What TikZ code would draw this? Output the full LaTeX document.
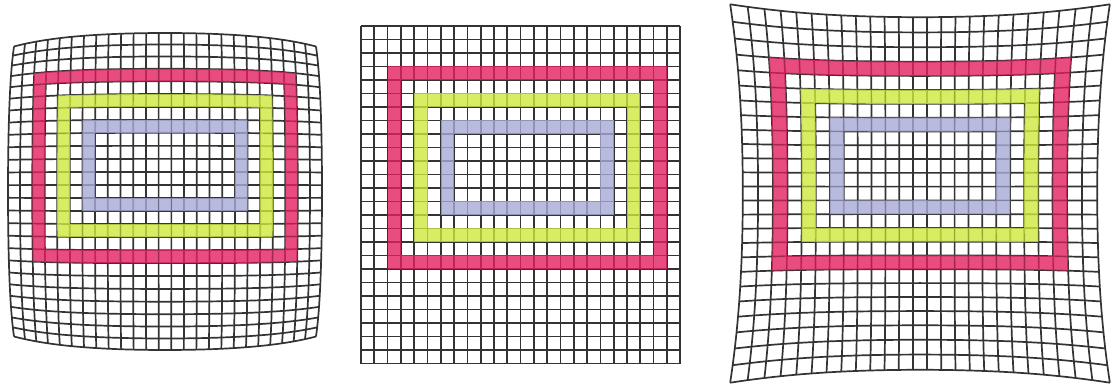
\documentclass[tikz,border=0pt]{standalone}
\definecolor{bandred}{RGB}{228,32,96}
\definecolor{bandlime}{RGB}{206,232,60}
\definecolor{bandlav}{RGB}{168,170,214}
\tikzset{
  gridline/.style={line width=0.85pt,draw=black!80},
  declare function={
    gu(\p)=2*\p/\gnc-1;
    gv(\q)=2*\q/\gnr-1;
    gr(\p,\q)=pow(gu(\p)*gu(\p)+gv(\q)*gv(\q),2);
    mx(\p,\q)=\gcx+\gax*gu(\p)*(1+(\gkx)*gr(\p,\q));
    my(\p,\q)=\gcy+\gay*gv(\q)*(1+(\gky)*gr(\p,\q));
  }
}
% one cell of a band: colour, column, row
\newcommand\cellfill[3]{\fill[#1,fill opacity=0.8] ({mx(#2,#3)},{my(#2,#3)}) -- ({mx(#2+1,#3)},{my(#2+1,#3)}) -- ({mx(#2+1,#3+1)},{my(#2+1,#3+1)}) -- ({mx(#2,#3+1)},{my(#2,#3+1)}) -- cycle;}
% ring of cells: colour, first/last column, first/last row
\newcommand\band[5]{%
  \foreach \ci in {#2,...,#3} {\cellfill{#1}{\ci}{#4}\cellfill{#1}{\ci}{#5}}
  \pgfmathtruncatemacro\ra{#4+1}\pgfmathtruncatemacro\rb{#5-1}
  \foreach \rj in {\ra,...,\rb} {\cellfill{#1}{#2}{\rj}\cellfill{#1}{#3}{\rj}}
}
% cx, cy, half width, half height, kx, ky, columns, rows
\newcommand\lensgrid[8]{%
  \def\gcx{#1}\def\gcy{#2}\def\gax{#3}\def\gay{#4}\def\gkx{#5}\def\gky{#6}\def\gnc{#7}\def\gnr{#8}
  \pgfmathtruncatemacro\nsx{2*#7+1}\pgfmathtruncatemacro\nsy{2*#8+1}
  \foreach \ci in {0,...,#7}
    \draw[gridline] plot[variable=\t,domain=0:#8,samples=\nsy] ({mx(\ci,\t)},{my(\ci,\t)});
  \foreach \rj in {0,...,#8}
    \draw[gridline] plot[variable=\t,domain=0:#7,samples=\nsx] ({mx(\t,\rj)},{my(\t,\rj)});
  \band{bandred}{2}{22}{3}{17}
  \band{bandlime}{4}{20}{5}{15}
  \band{bandlav}{6}{18}{7}{13}
}
\begin{document}
\begin{tikzpicture}[x=0.5pt,y=-0.5pt]
\useasboundingbox (0,0) rectangle (1112,389);
% barrel
\lensgrid{165}{191.5}{159}{163}{-0.0126}{-0.0276}{25}{25}
% undistorted
\lensgrid{520.6}{194.75}{159.6}{168.75}{0}{0}{24}{25}
% pincushion
\lensgrid{920}{193.5}{173}{172}{0.0243}{0.025}{25}{25}
\end{tikzpicture}
\end{document}
